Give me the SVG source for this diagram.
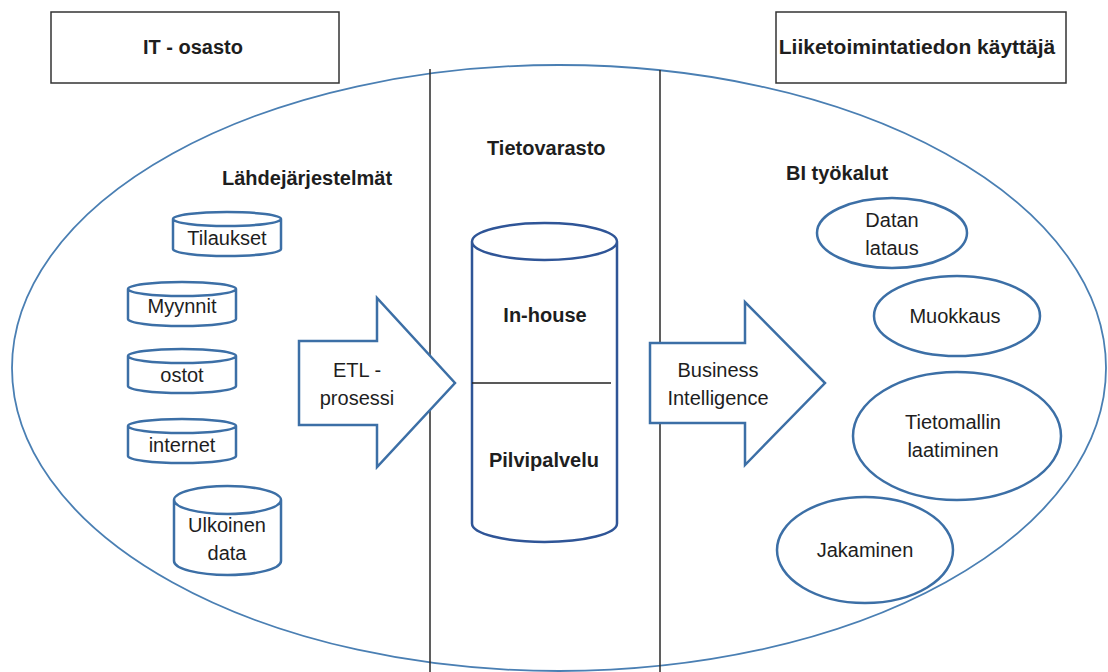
<svg xmlns="http://www.w3.org/2000/svg" width="1108" height="672" viewBox="0 0 1108 672">
<style>
text{font-family:"Liberation Sans",Arial,sans-serif;font-size:20px;fill:#1e1e1e}
.b{font-weight:bold}
.m{text-anchor:middle}
.box{fill:#fff;stroke:#333;stroke-width:1.5}
.shape{fill:#fff;stroke:#3c6fa6;stroke-width:2.5}
.big{fill:none;stroke:#4a7fb3;stroke-width:1.8}
.dv{stroke:#2a2a2a;stroke-width:1.5}
.cyl{fill:#fff;stroke:#2f5597;stroke-width:2.5}
</style>
<rect width="1108" height="672" fill="#fff"/>
<g id="outer">
<ellipse class="big" cx="559" cy="368" rx="547" ry="303"/>
</g>
<g id="dividers">
<line class="dv" x1="430" y1="69" x2="430" y2="672"/>
<line class="dv" x1="660" y1="70" x2="660" y2="672"/>
</g>
<g id="it-osasto">
<rect class="box" x="51" y="12" width="288" height="71"/>
<text class="b m" x="193" y="54">IT - osasto</text>
</g>
<g id="kayttaja">
<rect class="box" x="776" y="12" width="290" height="71"/>
<text class="b m" x="917" y="54" font-size="21" style="font-size:21px">Liiketoimintatiedon käyttäjä</text>
</g>
<g id="labels">
<text class="b" x="222" y="185">Lähdejärjestelmät</text>
<text class="b" x="487" y="155">Tietovarasto</text>
<text class="b" x="786" y="180">BI työkalut</text>
</g>
<g id="tilaukset">
<path class="shape" d="M173,219 A54,7 0 0 1 281,219 V249 A54,7 0 0 1 173,249 Z M173,219 A54,7 0 0 0 281,219"/>
<text class="m" x="227" y="245">Tilaukset</text>
</g>
<g id="myynnit">
<path class="shape" d="M128,289 A54,7 0 0 1 236,289 V319 A54,7 0 0 1 128,319 Z M128,289 A54,7 0 0 0 236,289"/>
<text class="m" x="182" y="313">Myynnit</text>
</g>
<g id="ostot">
<path class="shape" d="M128,356 A54,7 0 0 1 236,356 V386 A54,7 0 0 1 128,386 Z M128,356 A54,7 0 0 0 236,356"/>
<text class="m" x="182" y="382">ostot</text>
</g>
<g id="internet">
<path class="shape" d="M128,426 A54,7 0 0 1 236,426 V456 A54,7 0 0 1 128,456 Z M128,426 A54,7 0 0 0 236,426"/>
<text class="m" x="182" y="452">internet</text>
</g>
<g id="ulkoinen">
<path class="shape" d="M174,500 A53.5,14 0 0 1 281,500 V561 A53.5,14 0 0 1 174,561 Z M174,500 A53.5,14 0 0 0 281,500"/>
<text class="m" x="227" y="532">Ulkoinen</text>
<text class="m" x="227" y="560">data</text>
</g>
<g id="etl">
<polygon class="shape" points="299,341 377,341 377,298 455,383 377,467 377,425 299,425"/>
<text class="m" x="357" y="377">ETL -</text>
<text class="m" x="357" y="405">prosessi</text>
</g>
<g id="tietovarasto">
<path class="cyl" d="M472,241.5 A72.5,18.5 0 0 1 617,241.5 V523.5 A72.5,18.5 0 0 1 472,523.5 Z M472,241.5 A72.5,18.5 0 0 0 617,241.5"/>
<line x1="472" y1="383" x2="611" y2="383" stroke="#222" stroke-width="1.5"/>
<text class="b m" x="545" y="322">In-house</text>
<text class="b m" x="544" y="467">Pilvipalvelu</text>
</g>
<g id="bi">
<polygon class="shape" points="650,343 745,343 745,302 825,383 745,465 745,423 650,423"/>
<text class="m" x="718" y="377">Business</text>
<text class="m" x="718" y="405">Intelligence</text>
</g>
<g id="datan-lataus">
<ellipse class="shape" cx="892" cy="233" rx="75" ry="35"/>
<text class="m" x="892" y="227">Datan</text>
<text class="m" x="892" y="255">lataus</text>
</g>
<g id="muokkaus">
<ellipse class="shape" cx="957" cy="316" rx="83" ry="40"/>
<text class="m" x="955" y="323">Muokkaus</text>
</g>
<g id="tietomallin">
<ellipse class="shape" cx="957" cy="436" rx="104" ry="64"/>
<text class="m" x="953" y="429">Tietomallin</text>
<text class="m" x="953" y="457">laatiminen</text>
</g>
<g id="jakaminen">
<ellipse class="shape" cx="865" cy="550" rx="88" ry="53"/>
<text class="m" x="865" y="557">Jakaminen</text>
</g>
</svg>
